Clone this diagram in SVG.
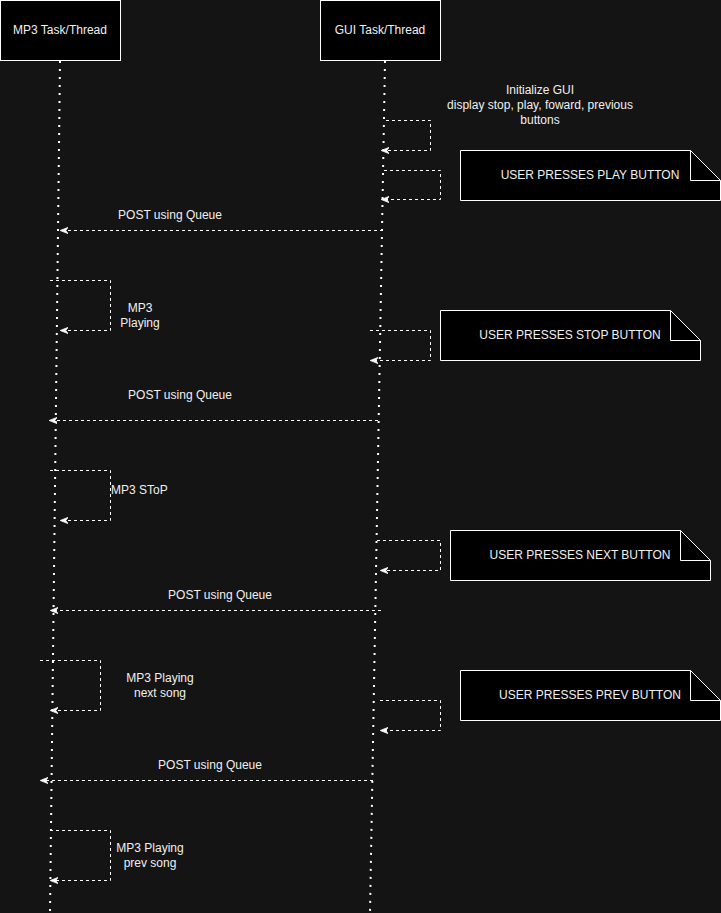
<svg xmlns="http://www.w3.org/2000/svg" width="721" height="913" viewBox="0 0 721 913">
  <defs>
    <marker id="arrow" viewBox="0 0 10 10" refX="9" refY="5" markerWidth="8" markerHeight="8" markerUnits="userSpaceOnUse" orient="auto">
      <path d="M0,1 L10,5 L0,9 L3,5 z" fill="#ffffff" stroke="#ffffff" stroke-width="1"/>
    </marker>
  </defs>
  <style>
    .bg { fill: #141414; }
    .head { fill: #000000; stroke: #ffffff; stroke-width: 1; }
    .note { fill: #000000; stroke: #ffffff; stroke-width: 1; }
    .fold { fill: none; stroke: #ffffff; stroke-width: 1; }
    .life { stroke: #ffffff; stroke-width: 2; stroke-dasharray: 2 6; fill: none; }
    .msg { stroke: #ffffff; stroke-width: 1; stroke-dasharray: 3 3; fill: none; marker-end: url(#arrow); }
    text { font-family: "Liberation Sans", Arial, Helvetica, sans-serif; font-size: 12px; fill: #f0f0f0; }
    .c { text-anchor: middle; dominant-baseline: central; }
    .l { text-anchor: start; dominant-baseline: central; }
  </style>
  <rect class="bg" x="0" y="0" width="721" height="913"/>

  <!-- lifelines -->
  <g id="lifelines">
    <line class="life" x1="60" y1="61" x2="50" y2="913"/>
    <line class="life" x1="385" y1="61" x2="370" y2="913"/>
  </g>

  <!-- participants -->
  <g id="mp3-task">
    <rect class="head" x="0.5" y="0.5" width="120" height="60"/>
    <text class="c" x="60" y="30">MP3 Task/Thread</text>
  </g>
  <g id="gui-task">
    <rect class="head" x="320.5" y="0.5" width="120" height="60"/>
    <text class="c" x="380" y="30">GUI Task/Thread</text>
  </g>

  <!-- notes -->
  <g id="note-play">
    <path class="note" d="M460.5,150.5 H690.5 L720.5,180.5 V200.5 H460.5 Z"/>
    <path class="fold" d="M690.5,150.5 V180.5 H720.5"/>
    <text class="c" x="590" y="175">USER PRESSES PLAY BUTTON</text>
  </g>
  <g id="note-stop">
    <path class="note" d="M440.5,310.5 H670.5 L700.5,340.5 V360.5 H440.5 Z"/>
    <path class="fold" d="M670.5,310.5 V340.5 H700.5"/>
    <text class="c" x="570" y="335">USER PRESSES STOP BUTTON</text>
  </g>
  <g id="note-next">
    <path class="note" d="M450.5,530.5 H680.5 L710.5,560.5 V580.5 H450.5 Z"/>
    <path class="fold" d="M680.5,530.5 V560.5 H710.5"/>
    <text class="c" x="580" y="555">USER PRESSES NEXT BUTTON</text>
  </g>
  <g id="note-prev">
    <path class="note" d="M460.5,670.5 H690.5 L720.5,700.5 V720.5 H460.5 Z"/>
    <path class="fold" d="M690.5,670.5 V700.5 H720.5"/>
    <text class="c" x="590" y="695">USER PRESSES PREV BUTTON</text>
  </g>

  <!-- connectors -->
  <g id="connectors">
    <path class="msg" d="M386,120.5 H430.5 V150.5 H382"/>
    <path class="msg" d="M384,170.5 H440.5 V199.5 H382"/>
    <path class="msg" d="M383,230.5 H61"/>
    <path class="msg" d="M50,280.5 H110.5 V330.5 H61"/>
    <path class="msg" d="M370,330.5 H430.5 V360.5 H371"/>
    <path class="msg" d="M378,420.5 H50"/>
    <path class="msg" d="M50,470.5 H110.5 V520.5 H61"/>
    <path class="msg" d="M377,540.5 H440.5 V570.5 H381"/>
    <path class="msg" d="M381,610.5 H51"/>
    <path class="msg" d="M40,660.5 H100.5 V710.5 H51"/>
    <path class="msg" d="M380,700.5 H440.5 V730.5 H381"/>
    <path class="msg" d="M373,780.5 H41"/>
    <path class="msg" d="M50,830.5 H110.5 V880.5 H51"/>
  </g>

  <!-- message labels -->
  <g id="labels">
    <text class="c" x="540" y="90">Initialize GUI</text>
    <text class="c" x="540" y="105">display stop, play, foward, previous</text>
    <text class="c" x="540" y="120">buttons</text>
    <text class="c" x="170" y="215">POST using Queue</text>
    <text class="c" x="140" y="308">MP3</text>
    <text class="c" x="140" y="323">Playing</text>
    <text class="c" x="180" y="395">POST using Queue</text>
    <text class="l" x="111" y="490">MP3 SToP</text>
    <text class="c" x="220" y="595">POST using Queue</text>
    <text class="c" x="160" y="678">MP3 Playing</text>
    <text class="c" x="160" y="693">next song</text>
    <text class="c" x="210" y="765">POST using Queue</text>
    <text class="c" x="150" y="848">MP3 Playing</text>
    <text class="c" x="150" y="863">prev song</text>
  </g>
</svg>
